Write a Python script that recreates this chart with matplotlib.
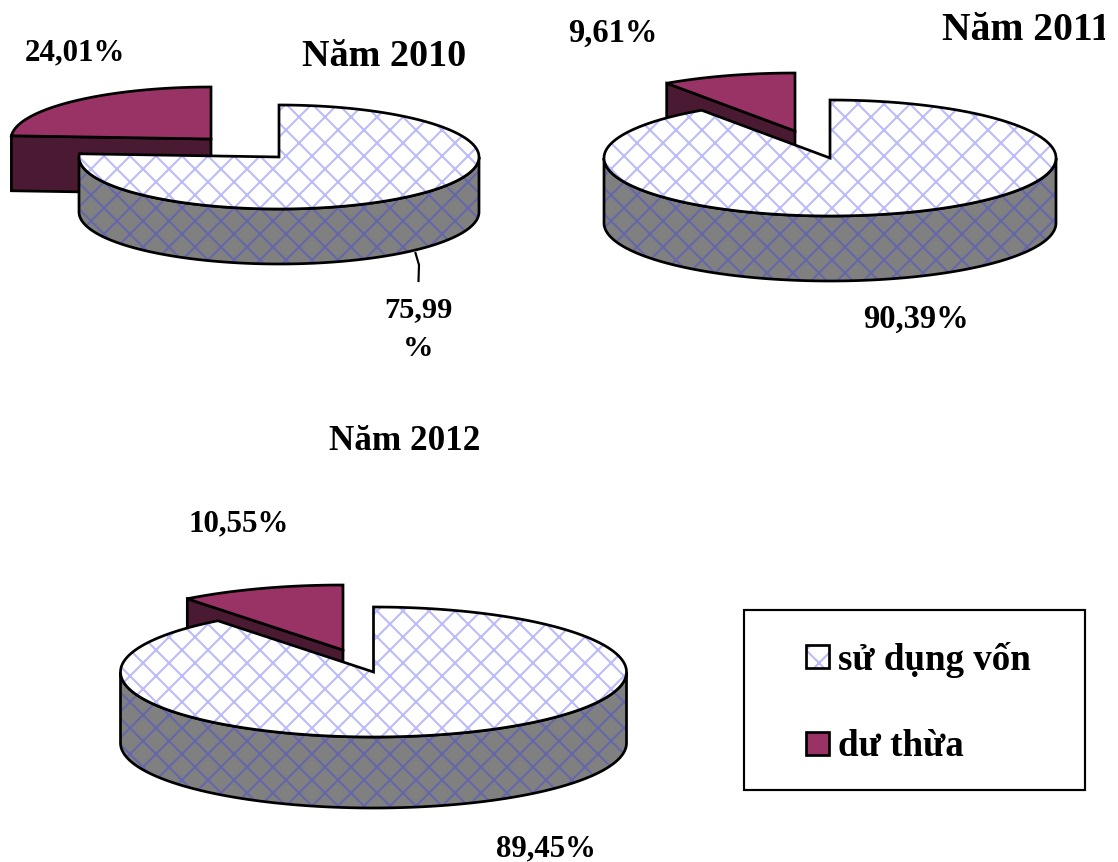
import numpy as np
import matplotlib
matplotlib.use("Agg")
import matplotlib.pyplot as plt
from matplotlib.patches import Polygon, Rectangle

plt.rcParams['font.family'] = ['Liberation Serif', 'DejaVu Serif']
plt.rcParams['font.weight'] = 'bold'
plt.rcParams['hatch.linewidth'] = 0.95

# hatch tile follows the dpi, 156 gives the wide diamonds
DPI = 156
W, H = 1118, 862

years = ["Năm 2010", "Năm 2011", "Năm 2012"]
used = [75.99, 90.39, 89.45]
surplus = [24.01, 9.61, 10.55]
legend_names = ["sử dụng vốn", "dư thừa"]

TOP_USED = "#ffffff"
HATCH_TOP = "#bcbcfb"
WALL_USED = "#808080"
HATCH_WALL = "#6666aa"
TOP_SURPLUS = "#993366"
WALL_SURPLUS = "#4a1a33"
LW = 1.25


def rim(cx, cy, rx, ry, a0, a1, n=120):
    # angles in degrees, clockwise from 12 o'clock
    t = np.radians(np.linspace(a0, a1, n))
    return np.column_stack([cx + rx * np.sin(t), cy - ry * np.cos(t)])


def hatched(ax, pts, face, hatch_col, z):
    ax.add_patch(Polygon(pts, closed=True, facecolor=face, edgecolor="none", zorder=z))
    ax.add_patch(Polygon(pts, closed=True, facecolor="none", edgecolor=hatch_col,
                         hatch="xx", linewidth=0, zorder=z))
    ax.add_patch(Polygon(pts, closed=True, facecolor="none", edgecolor="black",
                         linewidth=LW, joinstyle="miter", zorder=z))


def draw_pie(ax, pct_used, cx, cy, rx, ry, depth, dx, dy):
    end = 360 * pct_used / 100

    # exploded slice goes behind the big one
    sx, sy = cx + dx, cy + dy
    edge = rim(sx, sy, rx, ry, end, end)[0]
    side = [edge, (sx, sy), (sx, sy + depth), (edge[0], edge[1] + depth)]
    ax.add_patch(Polygon(side, closed=True, facecolor=WALL_SURPLUS, edgecolor="black",
                         linewidth=LW, joinstyle="miter", zorder=2))
    top = np.vstack([[(sx, sy)], rim(sx, sy, rx, ry, end, 360)])
    ax.add_patch(Polygon(top, closed=True, facecolor=TOP_SURPLUS, edgecolor="black",
                         linewidth=LW, joinstyle="miter", zorder=3))

    # front wall of the big slice
    front = rim(cx, cy, rx, ry, 90, min(end, 270))
    wall = np.vstack([front, front[::-1] + [0, depth]])
    hatched(ax, wall, WALL_USED, HATCH_WALL, 4)

    top = np.vstack([[(cx, cy)], rim(cx, cy, rx, ry, 0, end, 240)])
    hatched(ax, top, TOP_USED, HATCH_TOP, 5)


fig = plt.figure(figsize=(W / DPI, H / DPI), dpi=DPI)
ax = fig.add_axes([0, 0, 1, 1])
ax.set_xlim(0, W)
ax.set_ylim(H, 0)
ax.axis("off")

draw_pie(ax, used[0], 279, 157, 200, 52, 55, -68, -18)
draw_pie(ax, used[1], 830, 158, 226, 58, 65, -35, -27)
draw_pie(ax, used[2], 373.5, 672, 253, 65, 71, -30.5, -22)


def pct(v):
    return f"{v:.2f}".replace(".", ",") + "%"


ax.text(384, 66, years[0], fontsize=17.6, ha="center", va="baseline")
ax.text(942, 40, years[1], fontsize=18.3, ha="left", va="baseline", zorder=6)
# 2011 title runs into the edge of its frame and loses the end of the last digit
ax.add_patch(Rectangle((1105, 0), 13, 60, facecolor="white", edgecolor="none", zorder=7))
ax.text(405, 450, years[2], fontsize=16.2, ha="center", va="baseline")

ax.text(75, 60, pct(surplus[0]), fontsize=14.3, ha="center", va="baseline")
ax.text(612.5, 42, pct(surplus[1]), fontsize=15, ha="center", va="baseline")
ax.text(239, 531, pct(surplus[2]), fontsize=14.3, ha="center", va="baseline")

# 2010 label is wrapped over two lines in its box
label = pct(used[0])
ax.text(418.5, 317, label[:-1], fontsize=14, ha="center", va="baseline")
ax.text(418.5, 356, label[-1], fontsize=14, ha="center", va="baseline")
ax.plot([415.5, 419, 418.5], [253, 265, 281], color="black", lw=1.0, zorder=6)

ax.text(915.5, 328, pct(used[1]), fontsize=15, ha="center", va="baseline")
ax.text(545.5, 856, pct(used[2]), fontsize=14.2, ha="center", va="baseline")

# legend box
ax.add_patch(Rectangle((744, 610), 341, 180, facecolor="white", edgecolor="black", linewidth=1.0, zorder=1))
ax.add_patch(Rectangle((806, 645), 23, 23, facecolor=TOP_USED, edgecolor="none", zorder=3))
ax.add_patch(Rectangle((806, 645), 23, 23, facecolor="none", edgecolor=HATCH_TOP, hatch="xx", linewidth=0, zorder=3))
ax.add_patch(Rectangle((806, 645), 23, 23, facecolor="none", edgecolor="black", linewidth=LW, zorder=3))
ax.add_patch(Rectangle((806, 732), 23, 23, facecolor=TOP_SURPLUS, edgecolor="black", linewidth=LW, zorder=3))
ax.text(838, 670, legend_names[0], fontsize=17.1, ha="left", va="baseline", zorder=3)
ax.text(838, 756, legend_names[1], fontsize=17.1, ha="left", va="baseline", zorder=3)

fig.savefig("out.png", dpi=DPI)
